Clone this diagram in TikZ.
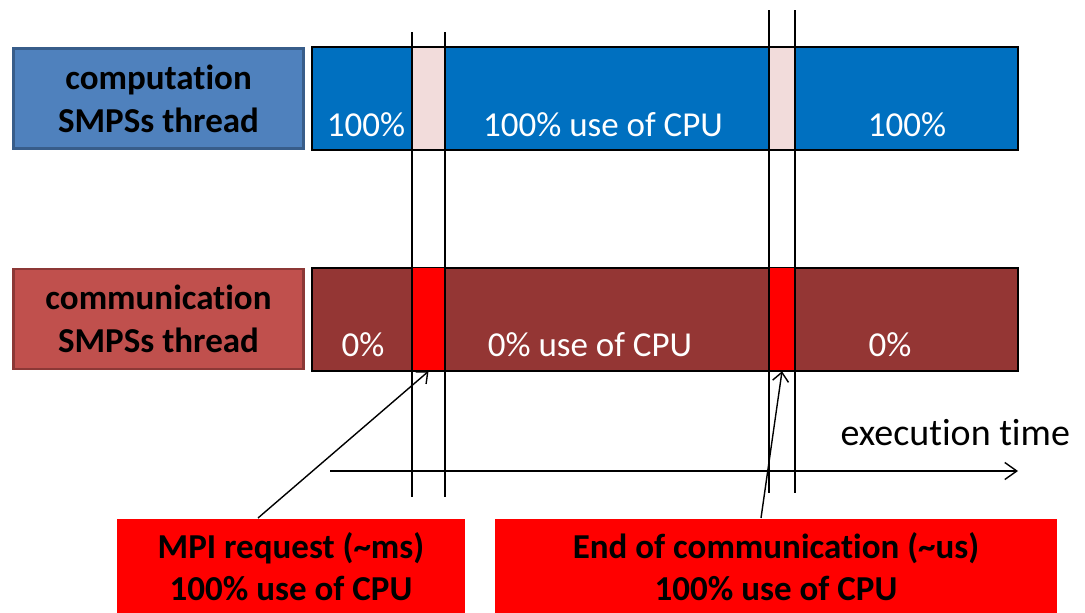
\documentclass[tikz,border=0pt]{standalone}
\usepackage{fontspec}
\setmainfont{Carlito}[Ligatures=NoCommon]
\usetikzlibrary{arrows.meta}
\definecolor{labelblue}{HTML}{4F81BD}
\definecolor{labelblueedge}{HTML}{385D8A}
\definecolor{labelred}{HTML}{C0504D}
\definecolor{labelrededge}{HTML}{8C3836}
\definecolor{barblue}{HTML}{0070C0}
\definecolor{barbrown}{HTML}{943634}
\definecolor{slotpink}{HTML}{F2DCDB}
\definecolor{slotred}{HTML}{FF0000}
\tikzset{
  threadlabel/.style={rectangle, draw, line width=2.5pt, minimum width=290pt, minimum height=100pt,
    inner sep=0pt, align=center, font=\fontsize{35}{43}\selectfont\bfseries},
  bar/.style={rectangle, draw=black, line width=2pt, minimum width=706pt, minimum height=103pt, inner sep=0pt},
  slot/.style={rectangle, draw=black, line width=1.6pt, minimum height=103pt, inner sep=0pt},
  bartext/.style={anchor=base, text=white, font=\fontsize{35}{40}\selectfont},
  note/.style={rectangle, fill=slotred, inner sep=0pt, align=center,
    font=\fontsize{35}{42}\selectfont\bfseries},
  marker/.style={line width=1.6pt, black},
  pointer/.style={line width=1.4pt, -{Straight Barb[length=9pt,width=16pt,line width=1.4pt]}},
}
\begin{document}
\begin{tikzpicture}[x=1pt,y=-1pt]
\useasboundingbox (0,0) rectangle (1085,613);

% thread labels
\node[threadlabel, fill=labelblue, draw=labelblueedge] (lcomp) at (158.5,98.5) {computation\\SMPSs thread};
\node[threadlabel, fill=labelred, draw=labelrededge] (lcomm) at (158.5,319) {communication\\SMPSs thread};

% timelines
\node[bar, fill=barblue] (bcomp) at (665,98.5) {};
\node[bar, fill=barbrown] (bcomm) at (665,319) {};

% CPU bursts
\node[slot, fill=slotpink, minimum width=33pt] (p1) at (428.5,98.5) {};
\node[slot, fill=slotpink, minimum width=26pt] (p2) at (782,98.5) {};
\node[slot, fill=slotred, minimum width=33pt] (r1) at (428.5,319) {};
\node[slot, fill=slotred, minimum width=26pt] (r2) at (782,319) {};

% percentages
\node[bartext] (c1) at (366,136) {100\%};
\node[bartext] (c2) at (603,136) {100\% use of CPU};
\node[bartext] (c3) at (907,136) {100\%};
\node[bartext] (m1) at (363,356) {0\%};
\node[bartext] (m2) at (590,356) {0\% use of CPU};
\node[bartext] (m3) at (890,356) {0\%};

% event markers
\coordinate (a1) at (412,32);  \coordinate (a2) at (412,497);
\coordinate (b1) at (445,32);  \coordinate (b2) at (445,497);
\coordinate (c1t) at (769,10); \coordinate (c1b) at (769,493);
\coordinate (d1) at (795,10);  \coordinate (d2) at (795,493);
\draw[marker] (a1) -- (a2);
\draw[marker] (b1) -- (b2);
\draw[marker] (c1t) -- (c1b);
\draw[marker] (d1) -- (d2);

% time axis
\coordinate (t0) at (330,471);
\coordinate (t1) at (1018,471);
\draw[line width=1.4pt, -{Straight Barb[length=12pt,width=17pt,line width=1.4pt]}] (t0) -- (t1);
\node[anchor=base west, font=\fontsize{38}{44}\selectfont] (xl) at (837,445) {execution time};

% annotations
\node[note, minimum width=348pt, minimum height=95pt] (req) at (291,566.5) {MPI request (\char`~ms)\\100\% use of CPU};
\node[note, minimum width=562pt, minimum height=95pt] (fin) at (776,566.5) {End of communication (\char`~us)\\100\% use of CPU};
\coordinate (reqtop) at (258,518);
\coordinate (fintop) at (761,518);
\draw[pointer] (reqtop) -- (r1.south);
\draw[pointer] (fintop) -- (r2.south);
\end{tikzpicture}
\end{document}
